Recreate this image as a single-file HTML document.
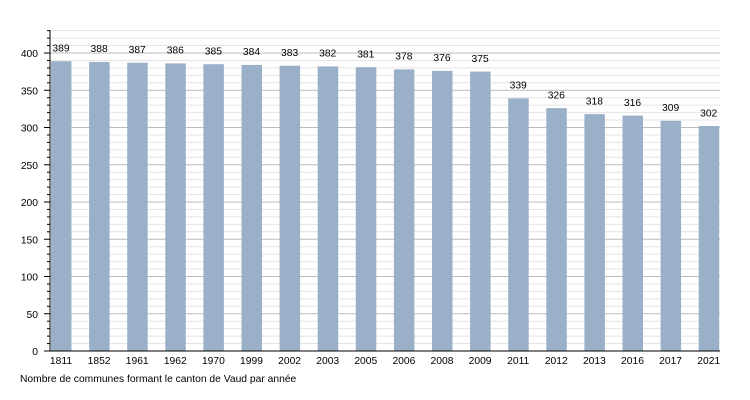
<!DOCTYPE html>
<html><head><meta charset="utf-8"><style>body{margin:0;background:#fff}svg{display:block}text{font-family:"Liberation Sans",sans-serif;font-size:10.3px;fill:#000}</style></head>
<body>
<svg width="750" height="400" xmlns="http://www.w3.org/2000/svg">
<g stroke="#e4e4e4" stroke-width="1">
<line x1="50" x2="720" y1="343.55" y2="343.55"/><line x1="50" x2="720" y1="336.1" y2="336.1"/><line x1="50" x2="720" y1="328.65" y2="328.65"/><line x1="50" x2="720" y1="321.2" y2="321.2"/>
<line x1="50" x2="720" y1="306.3" y2="306.3"/><line x1="50" x2="720" y1="298.85" y2="298.85"/><line x1="50" x2="720" y1="291.4" y2="291.4"/><line x1="50" x2="720" y1="283.95" y2="283.95"/>
<line x1="50" x2="720" y1="269.05" y2="269.05"/><line x1="50" x2="720" y1="261.6" y2="261.6"/><line x1="50" x2="720" y1="254.15" y2="254.15"/><line x1="50" x2="720" y1="246.7" y2="246.7"/>
<line x1="50" x2="720" y1="231.8" y2="231.8"/><line x1="50" x2="720" y1="224.35" y2="224.35"/><line x1="50" x2="720" y1="216.9" y2="216.9"/><line x1="50" x2="720" y1="209.45" y2="209.45"/>
<line x1="50" x2="720" y1="194.55" y2="194.55"/><line x1="50" x2="720" y1="187.1" y2="187.1"/><line x1="50" x2="720" y1="179.65" y2="179.65"/><line x1="50" x2="720" y1="172.2" y2="172.2"/>
<line x1="50" x2="720" y1="157.3" y2="157.3"/><line x1="50" x2="720" y1="149.85" y2="149.85"/><line x1="50" x2="720" y1="142.4" y2="142.4"/><line x1="50" x2="720" y1="134.95" y2="134.95"/>
<line x1="50" x2="720" y1="120.05" y2="120.05"/><line x1="50" x2="720" y1="112.6" y2="112.6"/><line x1="50" x2="720" y1="105.15" y2="105.15"/><line x1="50" x2="720" y1="97.7" y2="97.7"/>
<line x1="50" x2="720" y1="82.8" y2="82.8"/><line x1="50" x2="720" y1="75.35" y2="75.35"/><line x1="50" x2="720" y1="67.9" y2="67.9"/><line x1="50" x2="720" y1="60.45" y2="60.45"/>
<line x1="50" x2="720" y1="45.55" y2="45.55"/><line x1="50" x2="720" y1="38.1" y2="38.1"/><line x1="50" x2="720" y1="30.65" y2="30.65"/>
</g>
<g stroke="#bbb" stroke-width="1">
<line x1="50" x2="720" y1="313.75" y2="313.75"/><line x1="50" x2="720" y1="276.5" y2="276.5"/><line x1="50" x2="720" y1="239.25" y2="239.25"/><line x1="50" x2="720" y1="202" y2="202"/><line x1="50" x2="720" y1="164.75" y2="164.75"/><line x1="50" x2="720" y1="127.5" y2="127.5"/><line x1="50" x2="720" y1="90.25" y2="90.25"/><line x1="50" x2="720" y1="53" y2="53"/>
</g>
<g stroke="#000" stroke-width="1">
<line x1="47" x2="50" y1="343.55" y2="343.55"/><line x1="47" x2="50" y1="336.1" y2="336.1"/><line x1="47" x2="50" y1="328.65" y2="328.65"/><line x1="47" x2="50" y1="321.2" y2="321.2"/>
<line x1="47" x2="50" y1="306.3" y2="306.3"/><line x1="47" x2="50" y1="298.85" y2="298.85"/><line x1="47" x2="50" y1="291.4" y2="291.4"/><line x1="47" x2="50" y1="283.95" y2="283.95"/>
<line x1="47" x2="50" y1="269.05" y2="269.05"/><line x1="47" x2="50" y1="261.6" y2="261.6"/><line x1="47" x2="50" y1="254.15" y2="254.15"/><line x1="47" x2="50" y1="246.7" y2="246.7"/>
<line x1="47" x2="50" y1="231.8" y2="231.8"/><line x1="47" x2="50" y1="224.35" y2="224.35"/><line x1="47" x2="50" y1="216.9" y2="216.9"/><line x1="47" x2="50" y1="209.45" y2="209.45"/>
<line x1="47" x2="50" y1="194.55" y2="194.55"/><line x1="47" x2="50" y1="187.1" y2="187.1"/><line x1="47" x2="50" y1="179.65" y2="179.65"/><line x1="47" x2="50" y1="172.2" y2="172.2"/>
<line x1="47" x2="50" y1="157.3" y2="157.3"/><line x1="47" x2="50" y1="149.85" y2="149.85"/><line x1="47" x2="50" y1="142.4" y2="142.4"/><line x1="47" x2="50" y1="134.95" y2="134.95"/>
<line x1="47" x2="50" y1="120.05" y2="120.05"/><line x1="47" x2="50" y1="112.6" y2="112.6"/><line x1="47" x2="50" y1="105.15" y2="105.15"/><line x1="47" x2="50" y1="97.7" y2="97.7"/>
<line x1="47" x2="50" y1="82.8" y2="82.8"/><line x1="47" x2="50" y1="75.35" y2="75.35"/><line x1="47" x2="50" y1="67.9" y2="67.9"/><line x1="47" x2="50" y1="60.45" y2="60.45"/>
<line x1="47" x2="50" y1="45.55" y2="45.55"/><line x1="47" x2="50" y1="38.1" y2="38.1"/><line x1="47" x2="50" y1="30.65" y2="30.65"/>
<line x1="44" x2="50" y1="351" y2="351"/><line x1="44" x2="50" y1="313.75" y2="313.75"/><line x1="44" x2="50" y1="276.5" y2="276.5"/><line x1="44" x2="50" y1="239.25" y2="239.25"/><line x1="44" x2="50" y1="202" y2="202"/><line x1="44" x2="50" y1="164.75" y2="164.75"/><line x1="44" x2="50" y1="127.5" y2="127.5"/><line x1="44" x2="50" y1="90.25" y2="90.25"/><line x1="44" x2="50" y1="53" y2="53"/>
</g>
<g text-anchor="end">
<text x="38" y="355">0</text><text x="38" y="317.75">50</text><text x="38" y="280.5">100</text><text x="38" y="243.25">150</text><text x="38" y="206">200</text><text x="38" y="168.75">250</text><text x="38" y="131.5">300</text><text x="38" y="94.25">350</text><text x="38" y="57">400</text>
</g>
<g fill="#9ab0c9">
<rect x="51" y="61.2" width="20.5" height="289.8"/>
<rect x="89.1" y="61.94" width="20.5" height="289.06"/>
<rect x="127.2" y="62.7" width="20.5" height="288.3"/>
<rect x="165.3" y="63.43" width="20.5" height="287.57"/>
<rect x="203.4" y="64.2" width="20.5" height="286.8"/>
<rect x="241.5" y="64.92" width="20.5" height="286.08"/>
<rect x="279.6" y="65.7" width="20.5" height="285.3"/>
<rect x="317.7" y="66.4" width="20.5" height="284.6"/>
<rect x="355.8" y="67.2" width="20.5" height="283.8"/>
<rect x="393.9" y="69.4" width="20.5" height="281.6"/>
<rect x="432" y="70.9" width="20.5" height="280.1"/>
<rect x="470.1" y="71.6" width="20.5" height="279.4"/>
<rect x="508.2" y="98.4" width="20.5" height="252.6"/>
<rect x="546.3" y="108.1" width="20.5" height="242.9"/>
<rect x="584.4" y="114.1" width="20.5" height="236.9"/>
<rect x="622.5" y="115.6" width="20.5" height="235.4"/>
<rect x="660.6" y="120.8" width="20.5" height="230.2"/>
<rect x="698.7" y="126" width="20.5" height="225"/>
</g>
<g text-anchor="middle">
<text x="61" y="51.5">389</text><text x="99.1" y="52.2">388</text><text x="137.2" y="53">387</text><text x="175.3" y="53.7">386</text><text x="213.4" y="54.5">385</text><text x="251.5" y="55.2">384</text><text x="289.6" y="56">383</text><text x="327.7" y="56.7">382</text><text x="365.8" y="57.5">381</text><text x="403.9" y="59.7">378</text><text x="442" y="61.2">376</text><text x="480.1" y="61.9">375</text><text x="518.2" y="88.7">339</text><text x="556.3" y="98.4">326</text><text x="594.4" y="104.4">318</text><text x="632.5" y="105.9">316</text><text x="670.6" y="111.1">309</text><text x="708.7" y="116.3">302</text>
<text x="61" y="364">1811</text><text x="99.1" y="364">1852</text><text x="137.2" y="364">1961</text><text x="175.3" y="364">1962</text><text x="213.4" y="364">1970</text><text x="251.5" y="364">1999</text><text x="289.6" y="364">2002</text><text x="327.7" y="364">2003</text><text x="365.8" y="364">2005</text><text x="403.9" y="364">2006</text><text x="442" y="364">2008</text><text x="480.1" y="364">2009</text><text x="518.2" y="364">2011</text><text x="556.3" y="364">2012</text><text x="594.4" y="364">2013</text><text x="632.5" y="364">2016</text><text x="670.6" y="364">2017</text><text x="708.7" y="364">2021</text>
</g>
<line x1="50" x2="50" y1="30" y2="351" stroke="#000"/><line x1="50" x2="720" y1="351" y2="351" stroke="#000"/>
<text x="20" y="382">Nombre de communes formant le canton de Vaud par année</text>
</svg>
</body></html>
